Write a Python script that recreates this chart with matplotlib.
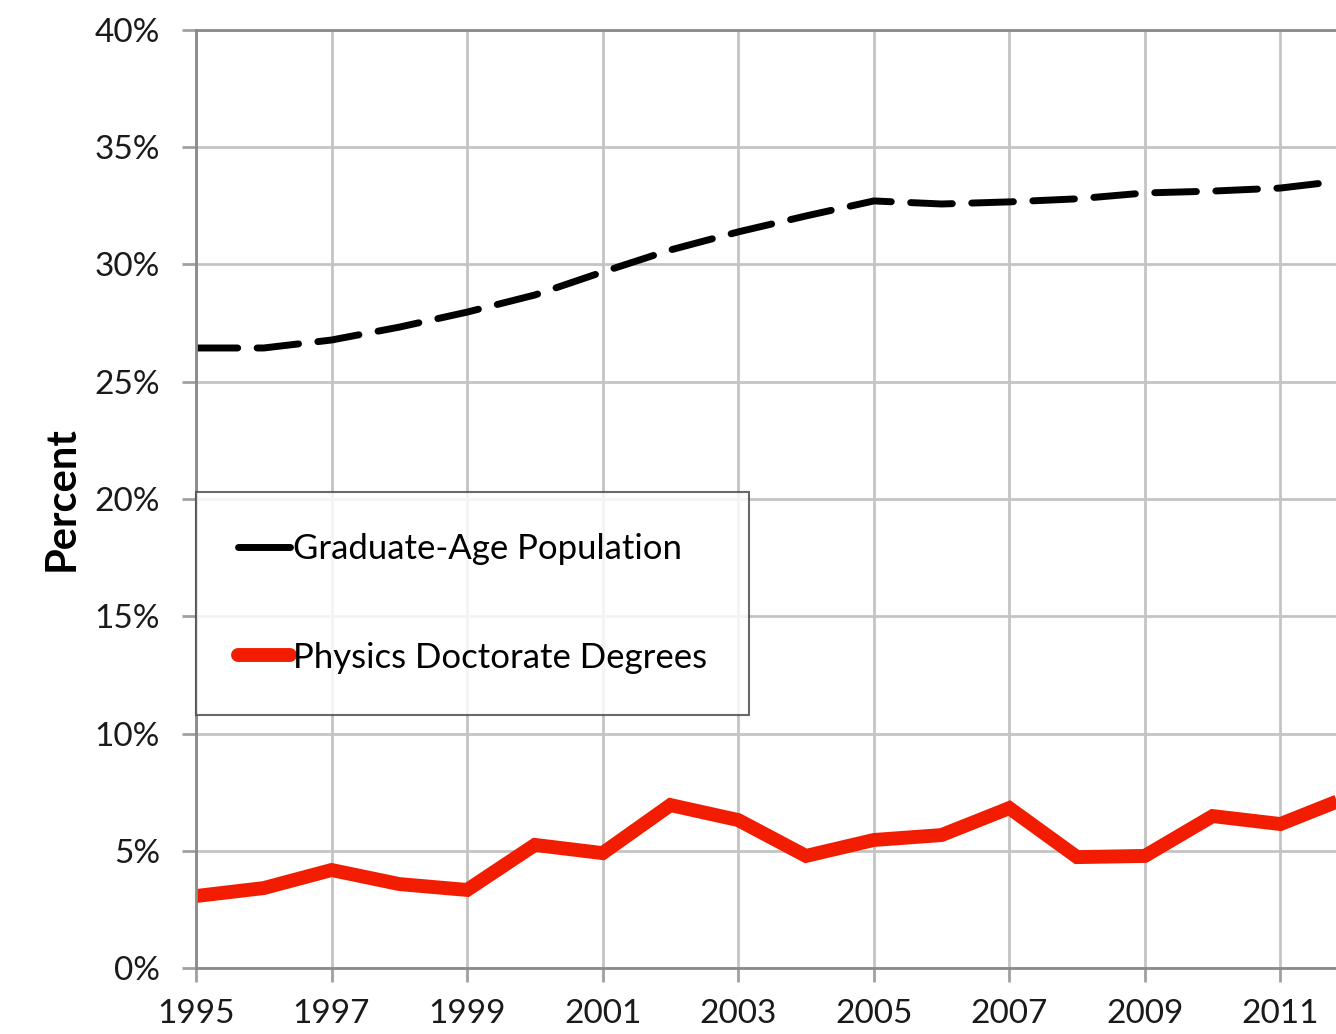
import matplotlib
matplotlib.use("Agg")
import matplotlib.pyplot as plt
from matplotlib.ticker import FuncFormatter, MultipleLocator
from matplotlib.lines import Line2D

years = list(range(1995, 2013))
grad_age_pop = [26.44, 26.44, 26.78, 27.33, 27.97, 28.70, 29.68, 30.62, 31.39,
                32.07, 32.71, 32.58, 32.67, 32.80, 33.05, 33.13, 33.26, 33.60]
physics_phd = [3.07, 3.41, 4.18, 3.58, 3.33, 5.25, 4.90, 6.95, 6.31,
               4.78, 5.46, 5.67, 6.82, 4.73, 4.78, 6.48, 6.14, 7.29]
xtick_years = list(range(1995, 2012, 2))

plt.rcParams['font.family'] = ['Lato', 'DejaVu Sans']

fig = plt.figure(figsize=(13.36, 10.34), dpi=100)
ax = fig.add_axes([0.1467, 0.0638, 0.8533, 0.9072])

grad_line, = ax.plot(years, grad_age_pop, color='black', lw=5,
                     dashes=(6, 2.8), dash_capstyle='round',
                     label='Graduate-Age Population')
phd_line, = ax.plot(years, physics_phd, color='#f21c00', lw=10,
                    solid_joinstyle='miter', solid_capstyle='butt',
                    label='Physics Doctorate Degrees')

ax.set_xlim(1995, 2011.82)
ax.set_ylim(0, 40)
ax.set_xticks(xtick_years)
ax.set_xticklabels([str(y) for y in xtick_years])
ax.yaxis.set_major_locator(MultipleLocator(5))
ax.yaxis.set_major_formatter(FuncFormatter(lambda v, p: f"{v:.0f}%"))

ax.grid(True, color='#c4c4c4', lw=2)
ax.set_axisbelow(True)
ax.spines['right'].set_visible(False)
for side in ['left', 'bottom', 'top']:
    ax.spines[side].set_color('#8a8a8a')
    ax.spines[side].set_linewidth(2)

ax.tick_params(axis='both', direction='out', length=10, width=2,
               color='#a0a0a0', labelsize=24, labelcolor='#1a1a1a')
ax.tick_params(axis='y', pad=16)
ax.tick_params(axis='x', pad=12)

ax.set_ylabel('Percent', fontsize=30, fontweight='bold', labelpad=10)

# legend handles are solid short lines
h1 = Line2D([], [], color='black', lw=5, solid_capstyle='round')
h2 = Line2D([], [], color='#f21c00', lw=10, solid_capstyle='round')
leg = ax.legend([h1, h2], [grad_line.get_label(), phd_line.get_label()],
                loc='upper left', bbox_to_anchor=(0.0, 0.508),
                fontsize=25, frameon=True, fancybox=False,
                handlelength=1.5, handletextpad=0.1, labelspacing=2.2,
                borderpad=1.2, borderaxespad=0)
leg.get_frame().set_edgecolor('#444444')
leg.get_frame().set_linewidth(1.5)

fig.savefig('out.png', dpi=100)
